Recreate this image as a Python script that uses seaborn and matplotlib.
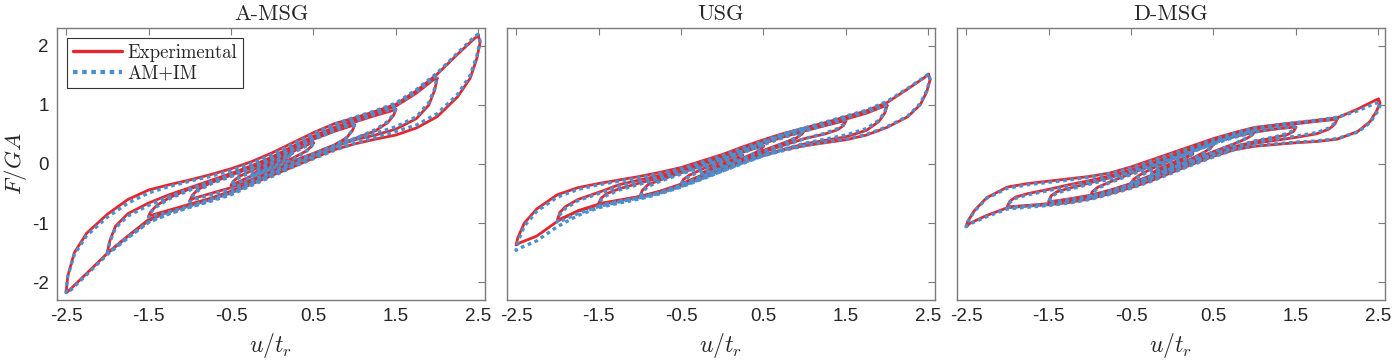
import matplotlib
matplotlib.use("Agg")
import matplotlib.pyplot as plt
import seaborn as sns
from matplotlib.lines import Line2D

# u/t_r paths for each loop amplitude (upper branch right->left, then lower branch left->right)
U25 = [2.50, 2.45, 2.25, 2.00, 1.75, 1.50, 1.25, 1.00, 0.75, 0.50, 0.25, 0.00, -0.25, -0.50, -0.75, -1.00,
       -1.25, -1.50, -1.75, -2.00, -2.25, -2.40, -2.48, -2.50,
       -2.45, -2.25, -2.00, -1.75, -1.50, -1.25, -1.00, -0.75, -0.50, -0.25, 0.00, 0.25, 0.50, 0.75, 1.00,
       1.25, 1.50, 1.75, 2.00, 2.25, 2.40, 2.48, 2.52, 2.50]
U20 = [2.00, 1.95, 1.75, 1.50, 1.25, 1.00, 0.75, 0.50, 0.25, 0.00, -0.25, -0.50, -0.75, -1.00, -1.25, -1.50,
       -1.75, -1.90, -1.97, -2.00,
       -1.95, -1.75, -1.50, -1.25, -1.00, -0.75, -0.50, -0.25, 0.00, 0.25, 0.50, 0.75, 1.00, 1.25, 1.50,
       1.75, 1.90, 1.97, 2.00]
U15 = [1.50, 1.45, 1.25, 1.00, 0.75, 0.50, 0.25, 0.00, -0.25, -0.50, -0.75, -1.00, -1.25, -1.40, -1.47, -1.50,
       -1.45, -1.25, -1.00, -0.75, -0.50, -0.25, 0.00, 0.25, 0.50, 0.75, 1.00, 1.25, 1.40, 1.47, 1.50]
U10 = [1.00, 0.95, 0.75, 0.50, 0.25, 0.00, -0.25, -0.50, -0.75, -0.90, -0.97, -1.00,
       -0.95, -0.75, -0.50, -0.25, 0.00, 0.25, 0.50, 0.75, 0.90, 0.97, 1.00]
U05 = [0.50, 0.45, 0.25, 0.00, -0.25, -0.40, -0.47, -0.50, -0.45, -0.25, 0.00, 0.25, 0.40, 0.47, 0.50]
U025 = [0.25, 0.15, 0.00, -0.15, -0.25, -0.15, 0.00, 0.15, 0.25]

# A-MSG, F/GA
A_EXP_25 = [2.17, 2.12, 1.86, 1.52, 1.24, 1.01, 0.89, 0.78, 0.68, 0.53, 0.36, 0.19, 0.04, -0.08, -0.18, -0.27,
            -0.35, -0.44, -0.60, -0.85, -1.17, -1.50, -1.90, -2.18,
            -2.12, -1.85, -1.51, -1.22, -0.94, -0.79, -0.69, -0.60, -0.49, -0.34, -0.19, -0.05, 0.10, 0.24,
            0.34, 0.42, 0.49, 0.61, 0.80, 1.14, 1.45, 1.78, 2.05, 2.17]
A_MOD_25 = [2.20, 2.15, 1.88, 1.54, 1.26, 1.03, 0.90, 0.79, 0.67, 0.51, 0.34, 0.16, 0.01, -0.11, -0.21, -0.29,
            -0.38, -0.49, -0.66, -0.90, -1.21, -1.53, -1.90, -2.17,
            -2.14, -1.87, -1.53, -1.25, -0.98, -0.84, -0.73, -0.63, -0.52, -0.36, -0.21, -0.05, 0.09, 0.23,
            0.35, 0.45, 0.55, 0.66, 0.85, 1.18, 1.50, 1.82, 2.08, 2.20]
A_EXP_20 = [1.45, 1.42, 1.20, 0.98, 0.85, 0.74, 0.62, 0.47, 0.30, 0.12, -0.03, -0.16, -0.28, -0.40, -0.52, -0.66,
            -0.84, -1.05, -1.30, -1.50,
            -1.45, -1.22, -0.96, -0.80, -0.70, -0.60, -0.48, -0.32, -0.15, 0.00, 0.15, 0.29, 0.41, 0.49, 0.59,
            0.77, 1.00, 1.25, 1.45]
A_MOD_20 = [1.48, 1.45, 1.22, 1.00, 0.86, 0.74, 0.61, 0.45, 0.28, 0.10, -0.05, -0.18, -0.30, -0.42, -0.55, -0.70,
            -0.88, -1.08, -1.32, -1.50,
            -1.46, -1.24, -0.99, -0.84, -0.73, -0.62, -0.50, -0.34, -0.17, -0.02, 0.13, 0.28, 0.42, 0.52, 0.63,
            0.80, 1.04, 1.28, 1.48]
A_EXP_15 = [0.92, 0.90, 0.82, 0.71, 0.59, 0.45, 0.28, 0.10, -0.05, -0.18, -0.30, -0.42, -0.57, -0.70, -0.80, -0.88,
            -0.86, -0.78, -0.68, -0.58, -0.46, -0.30, -0.13, 0.03, 0.17, 0.31, 0.43, 0.56, 0.70, 0.82, 0.92]
A_MOD_15 = [0.95, 0.93, 0.84, 0.72, 0.58, 0.43, 0.26, 0.08, -0.07, -0.20, -0.32, -0.44, -0.59, -0.72, -0.81, -0.90,
            -0.88, -0.81, -0.71, -0.60, -0.48, -0.32, -0.15, 0.01, 0.16, 0.30, 0.43, 0.58, 0.72, 0.84, 0.95]
A_EXP_10 = [0.66, 0.64, 0.55, 0.42, 0.26, 0.09, -0.06, -0.19, -0.32, -0.43, -0.53, -0.62,
            -0.58, -0.50, -0.40, -0.26, -0.10, 0.05, 0.18, 0.32, 0.44, 0.56, 0.66]
A_MOD_10 = [0.68, 0.66, 0.56, 0.41, 0.24, 0.07, -0.08, -0.21, -0.34, -0.45, -0.55, -0.64,
            -0.60, -0.52, -0.42, -0.28, -0.12, 0.03, 0.17, 0.31, 0.44, 0.57, 0.68]
A_EXP_05 = [0.36, 0.34, 0.21, 0.05, -0.11, -0.21, -0.29, -0.36, -0.33, -0.20, -0.05, 0.10, 0.21, 0.29, 0.36]
A_MOD_05 = [0.35, 0.33, 0.19, 0.03, -0.13, -0.23, -0.30, -0.37, -0.34, -0.22, -0.07, 0.08, 0.20, 0.28, 0.35]
A_EXP_025 = [0.20, 0.12, 0.02, -0.09, -0.19, -0.12, -0.03, 0.08, 0.20]
A_MOD_025 = [0.19, 0.10, 0.00, -0.11, -0.20, -0.14, -0.05, 0.06, 0.19]

# USG, F/GA
S_EXP_25 = [1.52, 1.46, 1.27, 1.04, 0.90, 0.80, 0.70, 0.61, 0.52, 0.41, 0.29, 0.16, 0.05, -0.06, -0.14, -0.21,
            -0.27, -0.33, -0.40, -0.52, -0.76, -1.00, -1.25, -1.37,
            -1.33, -1.22, -0.97, -0.79, -0.68, -0.62, -0.56, -0.48, -0.37, -0.24, -0.10, 0.04, 0.15, 0.24,
            0.31, 0.36, 0.41, 0.49, 0.62, 0.80, 1.00, 1.22, 1.42, 1.52]
S_MOD_25 = [1.52, 1.47, 1.28, 1.06, 0.91, 0.81, 0.71, 0.61, 0.51, 0.39, 0.27, 0.14, 0.03, -0.08, -0.16, -0.23,
            -0.29, -0.35, -0.43, -0.56, -0.80, -1.05, -1.32, -1.46,
            -1.42, -1.30, -1.06, -0.87, -0.74, -0.66, -0.59, -0.50, -0.39, -0.26, -0.12, 0.02, 0.14, 0.23,
            0.31, 0.37, 0.42, 0.50, 0.63, 0.81, 1.02, 1.24, 1.44, 1.52]
S_EXP_20 = [0.99, 0.97, 0.86, 0.76, 0.66, 0.57, 0.48, 0.37, 0.25, 0.12, 0.01, -0.10, -0.19, -0.27, -0.35, -0.48,
            -0.60, -0.72, -0.82, -0.95,
            -0.92, -0.80, -0.69, -0.62, -0.55, -0.47, -0.36, -0.23, -0.10, 0.03, 0.15, 0.25, 0.34, 0.40, 0.46,
            0.57, 0.72, 0.86, 0.99]
S_MOD_20 = [1.00, 0.98, 0.88, 0.78, 0.67, 0.57, 0.47, 0.35, 0.23, 0.10, -0.01, -0.12, -0.21, -0.29, -0.37, -0.50,
            -0.62, -0.75, -0.86, -0.98,
            -0.96, -0.84, -0.72, -0.64, -0.57, -0.49, -0.38, -0.25, -0.12, 0.01, 0.14, 0.25, 0.35, 0.42, 0.49,
            0.60, 0.74, 0.88, 1.00]
S_EXP_15 = [0.73, 0.72, 0.65, 0.56, 0.46, 0.35, 0.23, 0.10, -0.02, -0.13, -0.23, -0.32, -0.42, -0.50, -0.58, -0.67,
            -0.66, -0.61, -0.55, -0.46, -0.35, -0.22, -0.09, 0.05, 0.20, 0.32, 0.43, 0.51, 0.58, 0.65, 0.73]
S_MOD_15 = [0.75, 0.74, 0.66, 0.56, 0.45, 0.33, 0.21, 0.08, -0.04, -0.15, -0.25, -0.34, -0.44, -0.53, -0.61, -0.70,
            -0.69, -0.63, -0.57, -0.48, -0.37, -0.24, -0.11, 0.03, 0.18, 0.31, 0.43, 0.52, 0.60, 0.67, 0.75]
S_EXP_10 = [0.58, 0.57, 0.49, 0.37, 0.24, 0.10, -0.03, -0.15, -0.27, -0.35, -0.45, -0.55,
            -0.54, -0.46, -0.34, -0.20, -0.06, 0.09, 0.23, 0.36, 0.44, 0.51, 0.58]
S_MOD_10 = [0.60, 0.59, 0.50, 0.36, 0.22, 0.08, -0.05, -0.17, -0.29, -0.38, -0.48, -0.58,
            -0.57, -0.48, -0.36, -0.22, -0.08, 0.07, 0.21, 0.35, 0.45, 0.53, 0.60]
S_EXP_05 = [0.30, 0.29, 0.20, 0.06, -0.09, -0.19, -0.26, -0.33, -0.31, -0.19, -0.05, 0.10, 0.19, 0.25, 0.30]
S_MOD_05 = [0.31, 0.30, 0.19, 0.04, -0.11, -0.21, -0.28, -0.35, -0.33, -0.21, -0.07, 0.08, 0.19, 0.26, 0.31]
S_EXP_025 = [0.15, 0.09, 0.01, -0.08, -0.16, -0.12, -0.03, 0.06, 0.15]
S_MOD_025 = [0.15, 0.08, -0.01, -0.10, -0.17, -0.13, -0.05, 0.05, 0.15]

# D-MSG, F/GA
D_EXP_25 = [1.10, 1.07, 0.93, 0.78, 0.74, 0.70, 0.66, 0.62, 0.53, 0.43, 0.31, 0.19, 0.07, -0.05, -0.15, -0.21,
            -0.25, -0.29, -0.33, -0.39, -0.57, -0.79, -0.97, -1.06,
            -1.00, -0.87, -0.74, -0.71, -0.69, -0.65, -0.59, -0.50, -0.40, -0.28, -0.14, 0.00, 0.13, 0.24,
            0.30, 0.33, 0.36, 0.38, 0.42, 0.55, 0.72, 0.90, 1.04, 1.10]
D_MOD_25 = [1.04, 1.02, 0.90, 0.79, 0.74, 0.70, 0.66, 0.61, 0.52, 0.41, 0.29, 0.17, 0.05, -0.07, -0.16, -0.22,
            -0.27, -0.31, -0.35, -0.41, -0.58, -0.80, -0.98, -1.06,
            -1.01, -0.89, -0.76, -0.73, -0.70, -0.66, -0.60, -0.51, -0.41, -0.29, -0.15, -0.01, 0.12, 0.24,
            0.31, 0.34, 0.37, 0.39, 0.43, 0.54, 0.70, 0.87, 0.99, 1.04]
D_EXP_20 = [0.76, 0.75, 0.72, 0.68, 0.64, 0.59, 0.50, 0.39, 0.27, 0.14, 0.02, -0.10, -0.20, -0.28, -0.35, -0.43,
            -0.50, -0.56, -0.63, -0.72,
            -0.72, -0.70, -0.67, -0.62, -0.56, -0.47, -0.36, -0.23, -0.10, 0.03, 0.16, 0.27, 0.35, 0.40, 0.45,
            0.51, 0.59, 0.67, 0.76]
D_MOD_20 = [0.77, 0.76, 0.73, 0.69, 0.64, 0.58, 0.49, 0.37, 0.25, 0.12, 0.00, -0.12, -0.22, -0.30, -0.37, -0.45,
            -0.52, -0.58, -0.65, -0.73,
            -0.73, -0.71, -0.68, -0.63, -0.57, -0.48, -0.37, -0.24, -0.11, 0.02, 0.15, 0.27, 0.36, 0.42, 0.47,
            0.53, 0.61, 0.69, 0.77]
D_EXP_15 = [0.62, 0.62, 0.59, 0.54, 0.46, 0.36, 0.24, 0.11, -0.01, -0.12, -0.23, -0.32, -0.41, -0.47, -0.54, -0.64,
            -0.63, -0.59, -0.53, -0.44, -0.33, -0.20, -0.07, 0.06, 0.18, 0.29, 0.38, 0.45, 0.50, 0.55, 0.62]
D_MOD_15 = [0.63, 0.63, 0.60, 0.54, 0.45, 0.34, 0.22, 0.09, -0.03, -0.14, -0.25, -0.34, -0.43, -0.49, -0.56, -0.65,
            -0.64, -0.60, -0.54, -0.45, -0.34, -0.21, -0.08, 0.05, 0.17, 0.29, 0.39, 0.46, 0.52, 0.57, 0.63]
D_EXP_10 = [0.55, 0.54, 0.47, 0.36, 0.23, 0.10, -0.03, -0.16, -0.30, -0.39, -0.47, -0.57,
            -0.55, -0.47, -0.35, -0.21, -0.07, 0.07, 0.21, 0.34, 0.43, 0.49, 0.55]
D_MOD_10 = [0.56, 0.55, 0.47, 0.35, 0.21, 0.08, -0.05, -0.18, -0.31, -0.41, -0.49, -0.58,
            -0.56, -0.48, -0.36, -0.22, -0.08, 0.06, 0.20, 0.34, 0.44, 0.50, 0.56]
D_EXP_05 = [0.33, 0.32, 0.22, 0.08, -0.08, -0.19, -0.26, -0.32, -0.30, -0.19, -0.05, 0.10, 0.21, 0.28, 0.33]
D_MOD_05 = [0.33, 0.32, 0.21, 0.06, -0.10, -0.21, -0.28, -0.33, -0.32, -0.21, -0.07, 0.08, 0.20, 0.27, 0.33]
D_EXP_025 = [0.18, 0.11, 0.02, -0.07, -0.16, -0.10, -0.02, 0.08, 0.18]
D_MOD_025 = [0.17, 0.10, 0.00, -0.09, -0.17, -0.12, -0.04, 0.06, 0.17]

TITLES = ["A-MSG", "USG", "D-MSG"]
X_TICKS = [-2.5, -1.5, -0.5, 0.5, 1.5, 2.5]
Y_TICKS = [-2, -1, 0, 1, 2]

PATHS = [U25, U20, U15, U10, U05, U025]
PANELS = [
    ([A_EXP_25, A_EXP_20, A_EXP_15, A_EXP_10, A_EXP_05, A_EXP_025],
     [A_MOD_25, A_MOD_20, A_MOD_15, A_MOD_10, A_MOD_05, A_MOD_025]),
    ([S_EXP_25, S_EXP_20, S_EXP_15, S_EXP_10, S_EXP_05, S_EXP_025],
     [S_MOD_25, S_MOD_20, S_MOD_15, S_MOD_10, S_MOD_05, S_MOD_025]),
    ([D_EXP_25, D_EXP_20, D_EXP_15, D_EXP_10, D_EXP_05, D_EXP_025],
     [D_MOD_25, D_MOD_20, D_MOD_15, D_MOD_10, D_MOD_05, D_MOD_025]),
]

RED = "#e5262d"
BLUE = "#4a90cf"
SPINE = "#7a7a7a"
DOTS = (0, (1.1, 1.1))

sns.set_theme(style="white")
plt.rcParams["font.family"] = ["Liberation Sans", "DejaVu Sans"]
plt.rcParams["mathtext.fontset"] = "cm"
plt.rcParams["axes.unicode_minus"] = False

fig = plt.figure(figsize=(13.92, 3.62), dpi=100)
lefts = [57, 507, 957]
axes = [fig.add_axes([l / 1392, 1 - 300 / 362, 428 / 1392, 272 / 362]) for l in lefts]

for k, ax in enumerate(axes):
    exp_loops, mod_loops = PANELS[k]
    for u, f in zip(PATHS, exp_loops):
        assert len(u) == len(f)
        sns.lineplot(x=u, y=f, sort=False, estimator=None, ax=ax, color=RED, lw=2.0,
                     solid_joinstyle="round")
    for u, f in zip(PATHS, mod_loops):
        assert len(u) == len(f)
        sns.lineplot(x=u, y=f, sort=False, estimator=None, ax=ax, color=BLUE, lw=2.4,
                     linestyle=DOTS, dash_capstyle="butt")

    ax.set_xlim(-2.61, 2.58)
    ax.set_ylim(-2.3, 2.3)
    ax.set_xticks(X_TICKS)
    ax.set_xticklabels([f"{t:.1f}" for t in X_TICKS])
    ax.set_yticks(Y_TICKS)
    if k == 0:
        ax.set_yticklabels([str(t) for t in Y_TICKS])
        ax.set_ylabel(r"$F/GA$", fontsize=16.5, labelpad=2)
    else:
        ax.set_yticklabels([])
    ax.tick_params(direction="in", top=True, right=True, length=5, width=0.8,
                   colors=SPINE, labelcolor="#262626", labelsize=13.5, pad=6)
    for s in ax.spines.values():
        s.set_color(SPINE)
        s.set_linewidth(1.0)
    ax.set_xlabel(r"$u/t_r$", fontsize=17, labelpad=4)
    ax.set_title(TITLES[k], fontsize=16, family="cmr10", pad=6)

handles = [Line2D([], [], color=RED, lw=2.4),
           Line2D([], [], color=BLUE, lw=3.0, linestyle=DOTS, dash_capstyle="butt")]
leg = axes[0].legend(handles, ["Experimental", "AM+IM"], loc="upper left",
                     prop={"family": "cmr10", "size": 13.5}, handlelength=2.6,
                     handletextpad=0.3, labelspacing=0.15, borderpad=0.3,
                     borderaxespad=0.55, fancybox=False, framealpha=1)
leg.get_frame().set_edgecolor("#333333")
leg.get_frame().set_linewidth(0.8)

fig.savefig("out.png", dpi=100)
